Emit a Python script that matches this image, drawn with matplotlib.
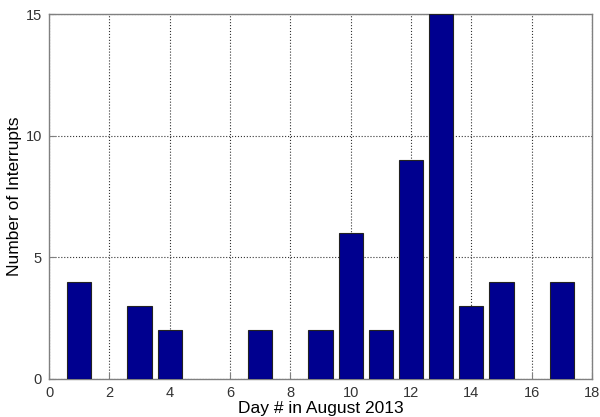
import matplotlib
matplotlib.use("Agg")
import matplotlib.pyplot as plt

# interrupts counted per day of August 2013
days = [1, 3, 4, 7, 9, 10, 11, 12, 13, 14, 15, 17]
interrupts = [4, 3, 2, 2, 2, 6, 2, 9, 15, 3, 4, 4]
xticks = [0, 2, 4, 6, 8, 10, 12, 14, 16, 18]
yticks = [0, 5, 10, 15]

plt.rcParams['font.family'] = ['Liberation Sans', 'DejaVu Sans']

fig = plt.figure(figsize=(6, 4.17), dpi=100)
ax = fig.add_axes([49/600, 1 - 379/417, (592-49)/600, (379-14)/417])

ax.bar(days, interrupts, width=0.8, color='#00008F', edgecolor='#222222', linewidth=0.8, zorder=3)

ax.set_xlim(0, 18)
ax.set_ylim(0, 15)
ax.set_xticks(xticks)
ax.set_yticks(yticks)
ax.grid(True, linestyle=':', color='#333333', linewidth=0.8, zorder=0)
for s in ax.spines.values():
    s.set_color('#808080')
    s.set_linewidth(1.0)
ax.tick_params(direction='in', length=4, color='#808080', labelsize=10.5, labelcolor='#333333', pad=5)

ax.set_xlabel('Day # in August 2013', fontsize=12.5, labelpad=1)
ax.set_ylabel('Number of Interrupts', fontsize=12.5, labelpad=3)

fig.savefig('out.png', dpi=100)
